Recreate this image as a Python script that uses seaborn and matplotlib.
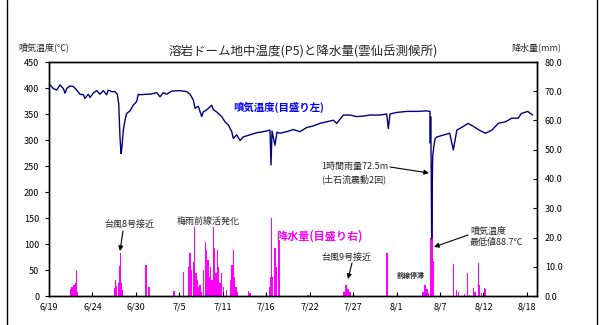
import matplotlib
matplotlib.use("Agg")
import matplotlib.pyplot as plt
import seaborn as sns
import pandas as pd
import numpy as np

# ---------------- data ----------------
tick_labels = ["6/19", "6/24", "6/30", "7/5", "7/11", "7/16", "7/22",
               "7/27", "8/1", "8/7", "8/12", "8/18"]
tick_step = 60 / 11  # days between labelled ticks

temp_day = [0.13, 0.54, 0.97, 1.38, 1.80, 2.01, 2.22, 2.64, 3.05, 3.48, 3.89, 4.31,
            4.52, 4.93, 5.15, 5.56, 5.99, 6.40, 6.82, 7.24, 7.44, 7.87, 8.29, 8.57,
            8.75, 8.91, 9.04, 9.16, 9.33, 9.54, 9.75, 10.17, 10.58, 11.01, 11.21, 11.42,
            12.27, 12.68, 13.52, 13.94, 14.35, 14.78, 15.40, 16.45, 17.29, 17.70, 18.12,
            18.33, 18.74, 19.17, 19.37, 19.80, 20.42, 20.63, 21.05, 21.68, 22.09, 22.51,
            22.94, 23.14, 23.56, 23.98, 24.39, 25.23, 26.07, 26.90, 27.74, 27.87, 28.00,
            28.37, 28.62, 29.00, 29.84, 30.67, 31.51, 32.35, 33.18, 34.02, 34.86, 35.69,
            36.12, 36.95, 37.79, 38.63, 39.46, 40.30, 41.55, 42.39, 42.60, 42.81, 43.65,
            44.91, 46.16, 47.42, 47.83, 47.87, 47.91, 47.98, 48.04, 48.10, 48.17, 48.30,
            48.48, 48.72, 50.30, 50.76, 51.20, 52.00, 52.60, 53.30, 54.00, 54.80, 55.60,
            56.40, 57.30, 58.10, 58.90, 59.30, 60.10, 60.70]
temp_val = [406, 399, 396, 406, 399, 390, 399, 404, 403, 396, 388, 387,
            380, 388, 382, 390, 395, 388, 395, 387, 396, 393, 393, 388,
            370, 306, 274, 287, 319, 338, 351, 356, 367, 374, 388, 387,
            388, 388, 391, 383, 391, 388, 394, 395, 393, 388, 377,
            361, 365, 345, 354, 358, 367, 358, 354, 345, 335, 329,
            316, 303, 310, 299, 306, 310, 314, 316, 319, 252, 317,
            290, 315, 313, 316, 320, 316, 324, 327, 332, 335, 338,
            332, 348, 348, 345, 346, 348, 348, 350, 322, 350, 353,
            355, 355, 356, 355, 294, 345, 250, 110, 200, 268, 287,
            303, 306, 313, 281, 319, 326, 332, 326, 319, 313, 319,
            332, 335, 342, 342, 351, 355, 348]

rain_day = [2.67, 2.80, 2.93, 3.14, 3.30, 3.43, 3.60,
            8.20, 8.37, 8.50, 8.70, 8.83, 8.95, 9.08, 9.20,
            12.18, 12.55, 15.69, 16.86,
            17.49, 17.70, 17.91, 18.12, 18.29, 18.45, 18.62, 18.79, 18.96, 19.17,
            19.37, 19.62, 19.80, 19.96, 20.12, 20.30, 20.46, 20.63, 20.80, 20.96,
            21.13, 21.30, 21.47, 21.63, 21.88, 22.31, 22.81, 22.97, 23.14, 23.31,
            23.48, 23.64, 25.02, 25.23,
            27.33, 27.66, 27.83, 27.96, 28.08, 28.37, 28.59, 28.87,
            32.51, 37.03, 37.28, 37.54, 37.79, 42.43,
            46.95, 47.20, 47.45, 47.58, 47.89, 48.02, 48.14, 48.27,
            50.76, 51.18, 51.38, 52.14, 52.56, 52.76, 53.27, 53.48,
            53.89, 54.02, 54.32, 54.65, 54.77]
rain_mm = [2.4, 3.0, 3.2, 3.8, 4.4, 8.9, 1.2,
           2.6, 5.5, 3.4, 4.3, 10.4, 14.6, 4.3, 1.9,
           10.6, 3.0, 1.8, 8.3,
           10.0, 14.6, 8.9, 11.7, 23.7, 7.8, 5.5, 3.2, 3.8, 1.5,
           8.9, 18.6, 15.7, 12.3, 6.6, 10.0, 5.5, 23.7, 16.3, 7.8,
           15.7, 10.0, 4.3, 7.8, 3.2, 2.1, 5.5, 10.6, 15.7, 6.6,
           3.2, 1.5, 1.8, 1.0,
           1.0, 3.2, 6.6, 26.6, 6.6, 16.3, 10.0, 19.1,
           0.5, 1.5, 3.8, 2.5, 1.2, 14.6,
           1.5, 3.8, 2.5, 1.0, 20.0, 42.0, 38.0, 12.0,
           10.9, 2.0, 1.5, 0.8, 8.0, 0.5, 2.9, 1.2,
           11.2, 3.8, 1.0, 2.8, 2.5]

left_ticks = list(range(0, 451, 50))
right_ticks = [0, 10, 20, 30, 40, 50, 60, 70, 80]

# ---------------- styling ----------------
sns.set_theme(style="white")
plt.rcParams['font.family'] = ['Noto Sans CJK JP', 'DejaVu Sans']
plt.rcParams['axes.unicode_minus'] = False

W, H = 605, 325
fig = plt.figure(figsize=(W / 100, H / 100), dpi=100)
fig.patch.set_facecolor("white")

def fx(x):
    return x / W

def fy(y):
    return 1 - y / H

ax = fig.add_axes([fx(49), fy(296), fx(536.5) - fx(49), fy(62) - fy(296)])
ax2 = ax.twinx()

# rain bars (right axis)
ax2.bar(rain_day, rain_mm, width=0.14, color="#FF00FF", linewidth=0, align="center")
ax2.set_ylim(0, 80)
ax2.set_yticks(right_ticks)
ax2.set_yticklabels([f"{v:.1f}" for v in right_ticks], fontsize=6.5)
ax2.tick_params(axis="y", direction="in", length=3, width=0.8, pad=6, right=True, colors="black")
ax2.grid(False)

# temperature line (left axis)
df = pd.DataFrame({"day": temp_day, "temp": temp_val})
sns.lineplot(data=df, x="day", y="temp", ax=ax, color="#000080", linewidth=1.0,
             estimator=None, sort=False)
ax.set_zorder(ax2.get_zorder() + 1)
ax.patch.set_visible(False)

ax.set_xlim(0, 61.2)
ax.set_ylim(0, 450)
ax.set_yticks(left_ticks)
ax.set_yticklabels([str(v) for v in left_ticks], fontsize=6.5)
ax.set_xticks([i * tick_step for i in range(len(tick_labels))])
ax.set_xticklabels(tick_labels, fontsize=6.5)
ax.tick_params(axis="y", direction="out", length=3, width=0.8, pad=4, left=True, colors="black")
ax.tick_params(axis="x", direction="in", length=3, width=0.8, pad=5, bottom=True, colors="black")
ax.set_xlabel("")
ax.set_ylabel("")
ax.grid(False)
for a in (ax, ax2):
    for s in a.spines.values():
        s.set_visible(True)
        s.set_color("black")
        s.set_linewidth(1.0)

# ---------------- texts ----------------
fig.text(fx(303), fy(52), "溶岩ドーム地中温度(P5)と降水量(雲仙岳測候所)", fontsize=9,
         ha="center", va="center")
fig.text(fx(18), fy(47), "噴気温度(℃)", fontsize=6.5, ha="left", va="center")
fig.text(fx(561), fy(47), "降水量(mm)", fontsize=6.5, ha="right", va="center")

fig.text(fx(233), fy(107), "噴気温度(目盛り左)", fontsize=7.5, color="#0000FF",
         fontweight="bold", ha="left", va="center")
fig.text(fx(276), fy(236), "降水量(目盛り右)", fontsize=8, color="#FF00FF",
         fontweight="bold", ha="left", va="center")

fig.text(fx(321), fy(166), "1時間雨量72.5m", fontsize=6.5, ha="left", va="center")
fig.text(fx(321), fy(179), "(土石流震動2回)", fontsize=6.5, ha="left", va="center")
fig.text(fx(470), fy(231), "噴気温度", fontsize=6.5, ha="left", va="center")
fig.text(fx(470), fy(242), "最低値88.7℃", fontsize=6.5, ha="left", va="center")
fig.text(fx(104), fy(224), "台風8号接近", fontsize=6.5, ha="left", va="center")
fig.text(fx(177), fy(221), "梅雨前線活発化", fontsize=6.5, ha="left", va="center")
fig.text(fx(321), fy(257), "台風9号接近", fontsize=6.5, ha="left", va="center")
fig.text(fx(397), fy(275), "前線停滞", fontsize=5, fontweight="bold", ha="left", va="center")

arrow = dict(arrowstyle="-|>", color="black", lw=0.8, mutation_scale=7,
             shrinkA=0, shrinkB=0)
fig.add_artist(matplotlib.patches.FancyArrowPatch((fx(390), fy(167)), (fx(429), fy(173)),
               transform=fig.transFigure, **arrow))
fig.add_artist(matplotlib.patches.FancyArrowPatch((fx(468), fy(235)), (fx(434), fy(247)),
               transform=fig.transFigure, **arrow))
fig.add_artist(matplotlib.patches.FancyArrowPatch((fx(123), fy(231)), (fx(120), fy(251)),
               transform=fig.transFigure, **arrow))
fig.add_artist(matplotlib.patches.FancyArrowPatch((fx(352), fy(263)), (fx(348), fy(279)),
               transform=fig.transFigure, **arrow))

# outer frame lines
fig.add_artist(matplotlib.lines.Line2D([fx(7), fx(7)], [0, 1], color="black", lw=1,
               transform=fig.transFigure))
fig.add_artist(matplotlib.lines.Line2D([fx(597), fx(597)], [0, 1], color="black", lw=1,
               transform=fig.transFigure))

fig.savefig("out.png", dpi=100)
